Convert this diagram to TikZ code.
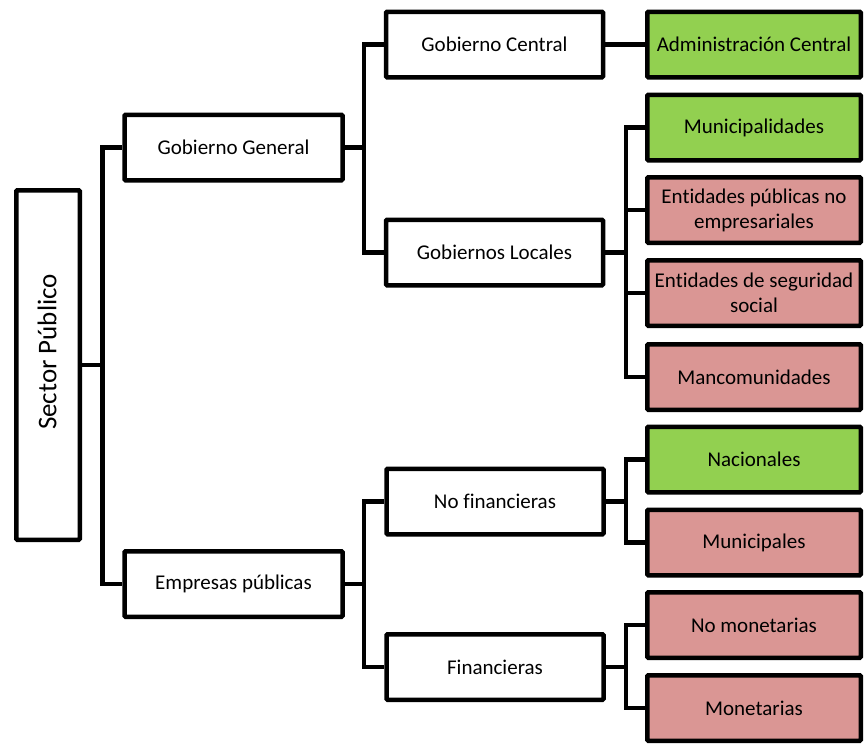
\documentclass[tikz,border=0pt]{standalone}
\usepackage{fontspec}
\setmainfont{Carlito}[Ligatures=NoCommon]
\definecolor{boxgreen}{HTML}{92D050}
\definecolor{boxpink}{HTML}{DA9694}
\begin{document}
\begin{tikzpicture}[x=1pt,y=-1pt,
  every path/.style={line width=4.5pt},
  box/.style={draw=black,line width=4.5pt,rectangle,rounded corners=1pt,minimum width=217pt,minimum height=65.5pt,inner sep=2pt,align=center,font=\fontsize{21}{25}\selectfont},
  midbox/.style={box,fill=white},
  leaf/.style={box,minimum width=213.5pt},
  green/.style={leaf,fill=boxgreen},
  pink/.style={leaf,fill=boxpink},
  conn/.style={draw=black,line width=4.5pt}]
\useasboundingbox (0,0) rectangle (864,745);
% root
\node[draw=black,line width=4.5pt,rounded corners=1pt,minimum width=63.5pt,minimum height=349.5pt] (SP) at (48,365) {};
\node[rotate=90,font=\fontsize{27}{30}\selectfont] (SPt) at (47,352) {Sector Público};
% level 1
\node[midbox,minimum width=218pt] (GG) at (233.5,147.5) {Gobierno General};
\node[midbox,minimum width=218pt] (EP) at (233.5,584) {Empresas públicas};
% level 2
\node[midbox] (GC) at (494.5,44.5) {Gobierno Central};
\node[midbox] (GL) at (494.5,252.5) {Gobiernos Locales};
\node[midbox] (NF) at (495,501.5) {No financieras};
\node[midbox] (FI) at (495,667) {Financieras};
% leaves
\node[green] (AC) at (754,44.5) {Administración Central};
\node[green] (MU) at (754,127.5) {Municipalidades};
\node[pink] (EN) at (754,210) {Entidades públicas no\\empresariales};
\node[pink] (ES) at (754,293) {Entidades de seguridad\\social};
\node[pink] (MA) at (754,377) {Mancomunidades};
\node[green] (NA) at (754,459.5) {Nacionales};
\node[pink] (MP) at (754,542.5) {Municipales};
\node[pink] (NM) at (754,625) {No monetarias};
\node[pink] (MO) at (754,708) {Monetarias};
% junction points
\coordinate (j0) at (102.5,365);
\coordinate (j1) at (364,147.5);
\coordinate (j2) at (364,584);
\coordinate (j3) at (626,252.5);
\coordinate (j4) at (626,501.5);
\coordinate (j5) at (626,667);
% connectors
\draw[conn] (SP.east) -- (j0);
\draw[conn] (GG.west) -| (j0) |- (EP.west);
\draw[conn] (GG.east) -- (j1);
\draw[conn] (GC.west) -| (j1) |- (GL.west);
\draw[conn] (GC.east) -- (AC.west);
\draw[conn] (GL.east) -- (j3);
\draw[conn] (MU.west) -| (j3) |- (MA.west);
\draw[conn] (EN.west) -- (EN.west -| j3);
\draw[conn] (ES.west) -- (ES.west -| j3);
\draw[conn] (EP.east) -- (j2);
\draw[conn] (NF.west) -| (j2) |- (FI.west);
\draw[conn] (NF.east) -- (j4);
\draw[conn] (NA.west) -| (j4) |- (MP.west);
\draw[conn] (FI.east) -- (j5);
\draw[conn] (NM.west) -| (j5) |- (MO.west);
\end{tikzpicture}
\end{document}
